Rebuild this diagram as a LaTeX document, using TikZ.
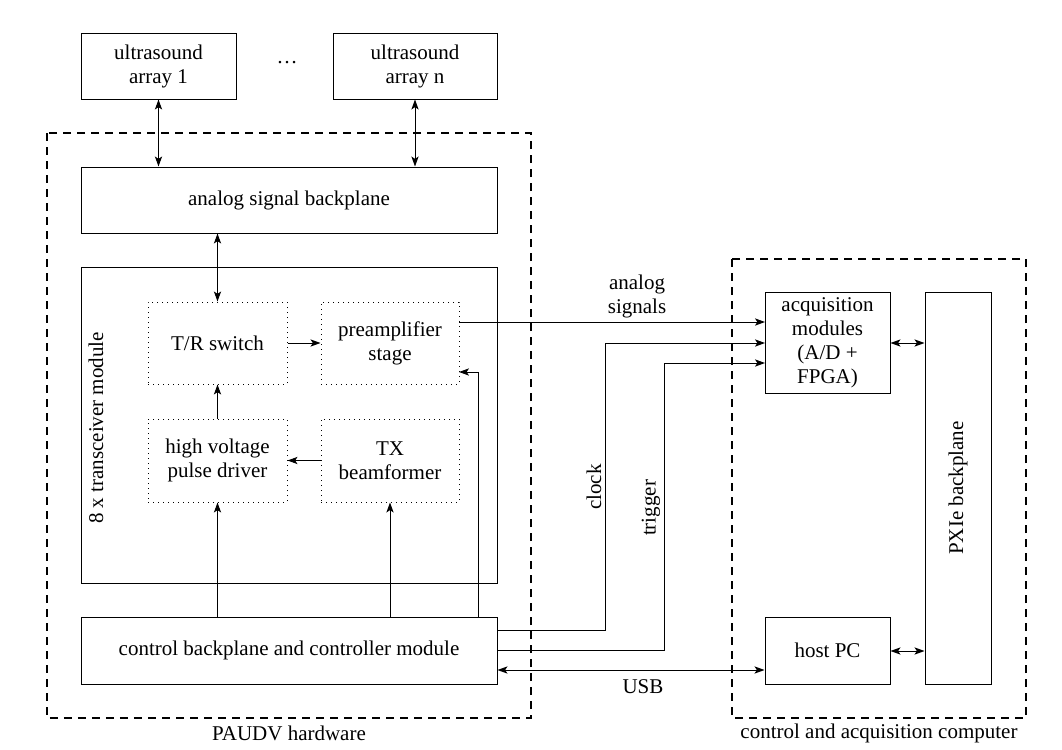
\documentclass[tikz,border=0pt]{standalone}
\usepackage{fontspec}
\setmainfont{Liberation Serif}
\newfontfamily\tms{Liberation Serif}
\usetikzlibrary{arrows.meta}
\begin{document}
\begin{tikzpicture}[x=0.5pt,y=-0.5pt,
  >={Stealth[length=5pt,width=3.6pt,inset=1.2pt]},
  font=\tms\fontsize{10.5}{12}\selectfont,
  blk/.style={draw,line width=0.5pt,inner sep=0pt},
  dbox/.style={draw,dotted,line width=0.5pt,inner sep=0pt},
  dash box/.style={draw,line width=1pt,dash pattern=on 4pt off 3pt},
  conn/.style={line width=0.5pt},
  lbl/.style={align=center,inner sep=0pt}]
\useasboundingbox (0,0) rectangle (1062,750);

% dashed groups
\draw[dash box] (47,133) rectangle (531,718);
\draw[dash box] (732,259) rectangle (1026,718);
\node[lbl] (paudv) at (289,733) {PAUDV hardware};
\node[lbl] (cac) at (879,733) {control and acquisition computer};

% top arrays
\node[blk,minimum width=77.5pt,minimum height=33pt,lbl] (arr1) at (158.5,66) {ultrasound\\array 1};
\node[blk,minimum width=82pt,minimum height=33pt,lbl] (arrn) at (415,66) {ultrasound\\array n};
\node[lbl] (dots) at (287,63) {\dots};

% backplanes
\node[blk,minimum width=208pt,minimum height=33pt,lbl] (asb) at (289,200) {analog signal backplane};
\node[blk,minimum width=208pt,minimum height=158pt] (trx) at (289,425) {};
\node[lbl,rotate=90] (trxlbl) at (96,428) {8 x transceiver module};
\node[blk,minimum width=208pt,minimum height=33.5pt,lbl] (cbp) at (289,650.5) {control backplane and controller module};

% inner dotted blocks
\node[dbox,minimum width=69.5pt,minimum height=41pt,lbl] (tr) at (217.5,343) {T/R switch};
\node[dbox,minimum width=69pt,minimum height=41pt,lbl] (pre) at (390,343) {preamplifier\\stage};
\node[dbox,minimum width=69.5pt,minimum height=41.5pt,lbl] (hv) at (217.5,460.5) {high voltage\\pulse driver};
\node[dbox,minimum width=69pt,minimum height=41.5pt,lbl] (tx) at (390,460.5) {TX\\beamformer};

% right side
\node[blk,minimum width=62.5pt,minimum height=50.5pt,lbl] (acq) at (827.5,342.5) {acquisition\\modules\\(A/D +\\FPGA)};
\node[blk,minimum width=33pt,minimum height=196pt] (pxie) at (958,488) {};
\node[lbl,rotate=90] (pxielbl) at (958,488) {PXIe backplane};
\node[blk,minimum width=62.5pt,minimum height=33.5pt,lbl] (host) at (827.5,650.5) {host PC};

% connectors
\draw[conn,<->] (arr1.south) -- (arr1.south|-asb.north);
\draw[conn,<->] (arrn.south) -- (arrn.south|-asb.north);
\draw[conn,<->] (tr.north|-asb.south) -- (tr.north);
\draw[conn,->] (tr.east) -- (pre.west);
\draw[conn,->] (hv.north) -- (tr.south);
\draw[conn,->] (tx.west) -- (hv.east);
\draw[conn,->] (hv.south|-cbp.north) -- (hv.south);
\draw[conn,->] (tx.south|-cbp.north) -- (tx.south);
\coordinate (c1) at (478,617);
\coordinate (pr) at (459,372);
\draw[conn,->] (c1) |- (pr);

% analog signals
\coordinate (as1) at (459,322);
\coordinate (as2) at (765,322);
\draw[conn,->] (as1) -- (as2);
\node[lbl] (aslbl) at (637,296) {analog\\signals};

% clock
\coordinate (ck0) at (497,630);
\coordinate (ck1) at (605,630);
\coordinate (ck2) at (765,343);
\draw[conn,->] (ck0) -- (ck1) |- (ck2);
\node[lbl,rotate=90] (cklbl) at (594,487) {clock};

% trigger
\coordinate (tg0) at (497,650);
\coordinate (tg1) at (664,650);
\coordinate (tg2) at (765,363);
\draw[conn,->] (tg0) -- (tg1) |- (tg2);
\node[lbl,rotate=90] (tglbl) at (651,508) {trigger};

% USB
\draw[conn,<->] (cbp.east|-0,670) -- (host.west|-0,670);
\node[lbl] (usb) at (643,687) {USB};

% PXIe links
\draw[conn,<->] (acq.east|-0,343) -- (pxie.west|-0,343);
\draw[conn,<->] (host.east|-0,651) -- (pxie.west|-0,651);
\end{tikzpicture}
\end{document}
